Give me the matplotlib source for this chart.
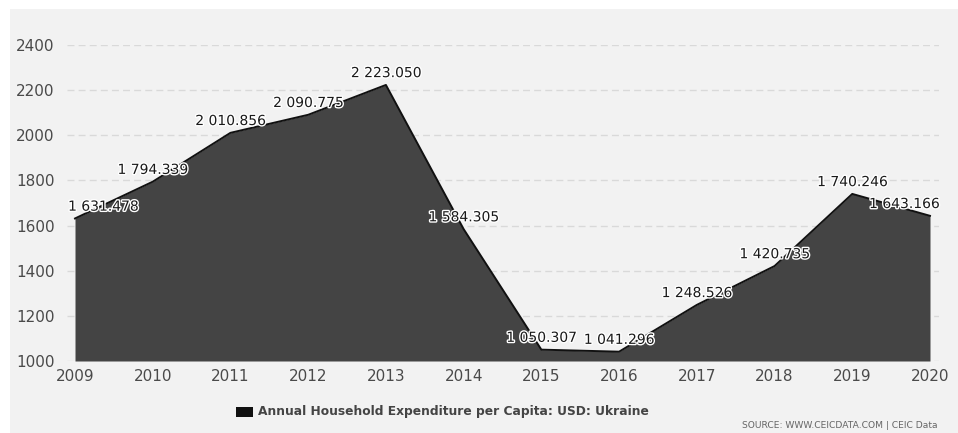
import matplotlib
matplotlib.use("Agg")
import matplotlib.pyplot as plt
import matplotlib.patheffects as pe
from matplotlib.patches import Rectangle

years = [2009, 2010, 2011, 2012, 2013, 2014, 2015, 2016, 2017, 2018, 2019, 2020]
values = [1631.478, 1794.339, 2010.856, 2090.775, 2223.050, 1584.305,
          1050.307, 1041.296, 1248.526, 1420.735, 1740.246, 1643.166]
y_ticks = [1000, 1200, 1400, 1600, 1800, 2000, 2200, 2400]
legend_label = "Annual Household Expenditure per Capita: USD: Ukraine"
source_text = "SOURCE: WWW.CEICDATA.COM | CEIC Data"

def fmt(v):
    s = f"{v:,.3f}"
    return s.replace(",", " ")

W, H = 958, 433
fig = plt.figure(figsize=(W / 100, H / 100), dpi=100)
fig.patch.set_facecolor("white")
fig.patches.append(Rectangle((10 / W, 0), (W - 10) / W, (H - 9) / H,
                             transform=fig.transFigure, facecolor="#f2f2f2",
                             edgecolor="none", zorder=-5))

ax = fig.add_axes([67 / W, 1 - 361 / H, (939 - 67) / W, (361 - 45) / H])
ax.set_facecolor("none")

ax.fill_between(years, values, 1000, color="#444444", linewidth=0, zorder=2)
ax.plot(years, values, color="#111111", linewidth=1.4, zorder=3)

px = 8.0 / 77.7
ax.set_xlim(years[0] - px, years[-1] + 9.0 / 77.7)
ax.set_ylim(1000, 2400)
ax.set_xticks(years)
ax.set_xticklabels([str(y) for y in years])
ax.set_yticks(y_ticks)
ax.set_yticklabels([str(t) for t in y_ticks])
ax.tick_params(axis="both", length=0, labelsize=11, colors="#4a4a4a")
ax.tick_params(axis="y", pad=9)
ax.tick_params(axis="x", pad=6)
for s in ax.spines.values():
    s.set_visible(False)
ax.grid(axis="y", color="#d9d9d9", linewidth=1, linestyle=(0, (5, 3)), zorder=1)
ax.set_axisbelow(True)

stroke = [pe.withStroke(linewidth=2, foreground="white")]
for i, (x, v) in enumerate(zip(years, values)):
    if i == 0:
        ha, dx = "left", -5
    elif i == len(years) - 1:
        ha, dx = "right", 7
    else:
        ha, dx = "center", 0
    ax.annotate(fmt(v), (x, v), xytext=(dx, 8.5), textcoords="offset points",
                ha=ha, va="center", fontsize=10, color="#1a1a1a",
                path_effects=stroke, zorder=5, annotation_clip=False)

fig.patches.append(Rectangle((236 / W, 1 - 417 / H), 17 / W, 10 / H,
                             transform=fig.transFigure, facecolor="#111111",
                             edgecolor="none", zorder=2))
fig.text(258 / W, 1 - 411 / H, legend_label, fontsize=8.8, fontweight="bold",
         color="#444444", ha="left", va="center")
fig.text(938 / W, 1 - 425 / H, source_text, fontsize=6.6, color="#666666",
         ha="right", va="center")

fig.savefig("out.png", dpi=100)
